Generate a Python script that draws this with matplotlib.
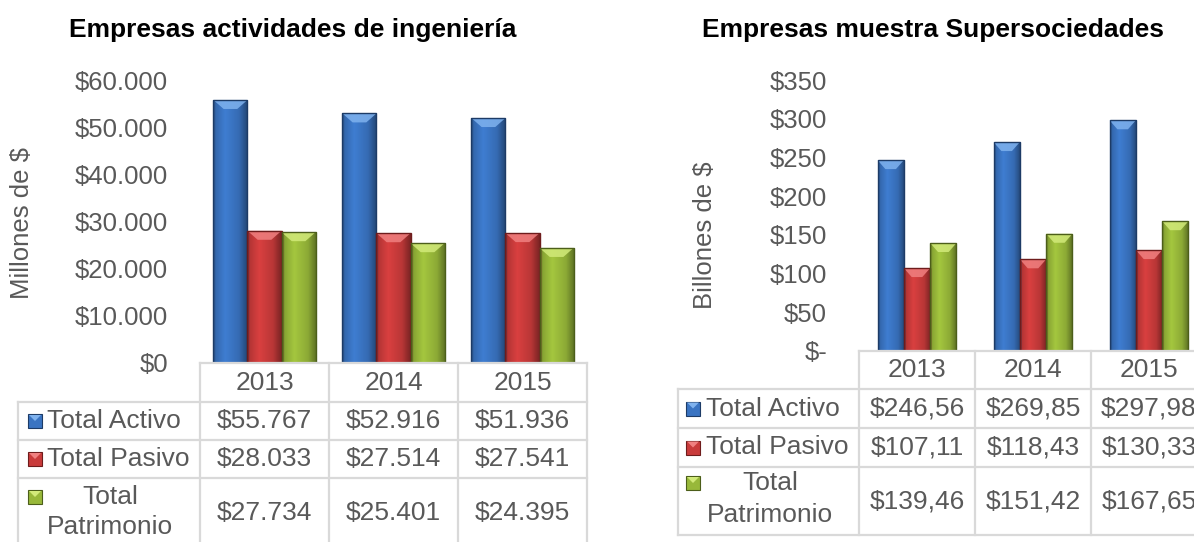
import numpy as np
import matplotlib.pyplot as plt
from matplotlib.patches import Polygon, Rectangle
from matplotlib.colors import to_rgb

plt.rcParams['font.family'] = ['Liberation Sans', 'DejaVu Sans']

years = ['2013', '2014', '2015']
series = ['Total Activo', 'Total Pasivo', 'Total Patrimonio']
row_labels = ['Total Activo', 'Total Pasivo', 'Total\nPatrimonio']

# Empresas actividades de ingenieria (millones de $)
ing_activo = [55767, 52916, 51936]
ing_pasivo = [28033, 27514, 27541]
ing_patrimonio = [27734, 25401, 24395]

# Empresas muestra Supersociedades (billones de $)
sup_activo = [246.56, 269.85, 297.98]
sup_pasivo = [107.11, 118.43, 130.33]
sup_patrimonio = [139.46, 151.42, 167.65]

ing_ticks = [0, 10000, 20000, 30000, 40000, 50000, 60000]
sup_ticks = [0, 50, 100, 150, 200, 250, 300, 350]

base_cols = ['#3a74c2', '#c93b3b', '#98b83a']
light_cols = ['#7fb2ee', '#f08080', '#d2ea7a']
dark_cols = ['#1d3b66', '#6e1c1c', '#4c5e1a']
grid_col = '#d9d9d9'
txt_col = '#595959'
tab_fs = 19

W, H = 1194, 542
fig = plt.figure(figsize=(W / 100, H / 100), dpi=100)


def px_rect(x0, x1, ytop, ybot):
    return [x0 / W, 1 - ybot / H, (x1 - x0) / W, (ybot - ytop) / H]


def fmt_ing(v):
    return '$' + f'{v:,.0f}'.replace(',', '.')


def fmt_sup(v):
    return '$' + f'{v:.2f}'.replace('.', ',')


def fmt_sup_tick(v):
    return '$-' if v == 0 else f'${v:.0f}'


def bevel_bars(ax, data, width, px_per_unit):
    n = len(data)
    x = np.arange(len(years))
    prof = np.interp(np.linspace(0, 1, 60), [0, 0.08, 0.35, 0.75, 1.0],
                     [0.62, 0.9, 1.08, 0.92, 0.6])
    for i, vals in enumerate(data):
        off = (i - (n - 1) / 2) * width
        bars = ax.bar(x + off, vals, width, color=base_cols[i], zorder=1)
        base = np.array(to_rgb(base_cols[i]))
        img = np.clip(prof[:, None] * base[None, :], 0, 1)[None, :, :]
        for p in bars:
            bx, bw, bh = p.get_x(), p.get_width(), p.get_height()
            im = ax.imshow(img, extent=[bx, bx + bw, 0, bh], aspect='auto',
                           zorder=2, interpolation='bilinear')
            im.set_clip_path(p)
            d = 9 / px_per_unit
            ins = bw * 0.3
            ax.add_patch(Polygon([(bx, bh), (bx + bw, bh), (bx + bw - ins, bh - d),
                                  (bx + ins, bh - d)], closed=True,
                                 facecolor=light_cols[i], edgecolor='none',
                                 alpha=0.85, zorder=3))
        ax.bar(x + off, vals, width, fill=False, edgecolor=dark_cols[i],
               linewidth=1.0, zorder=4)
    ax.set_xlim(-0.5, len(years) - 0.5)


def style_axis(ax, ticks, fmt, pad):
    ax.set_ylim(ticks[0], ticks[-1])
    ax.set_yticks(ticks)
    ax.set_yticklabels([fmt(t) for t in ticks], color=txt_col, fontsize=18.5)
    ax.tick_params(axis='y', length=0, pad=pad)
    ax.set_xticks([])
    for s in ['top', 'right', 'left', 'bottom']:
        ax.spines[s].set_visible(False)
    ax.patch.set_alpha(0)


# overlay in pixel coordinates for titles and data tables
ov = fig.add_axes([0, 0, 1, 1])
ov.set_xlim(0, W)
ov.set_ylim(H, 0)
ov.axis('off')
ov.set_zorder(5)


def draw_table(col_x0, col_w, tab_x0, head_top, row_lines, data, fmt,
               mark_x, lab_x, pat_x, pat_lines):
    ncol = len(years)
    x_end = col_x0 + ncol * col_w
    lw = 1.6
    # header row
    ov.plot([col_x0, x_end], [head_top, head_top], color=grid_col, lw=lw)
    for j in range(ncol + 1):
        xx = col_x0 + j * col_w
        ov.plot([xx, xx], [head_top, row_lines[-1]], color=grid_col, lw=lw)
    ov.plot([tab_x0, tab_x0], [row_lines[0], row_lines[-1]], color=grid_col, lw=lw)
    for yy in row_lines:
        ov.plot([tab_x0, x_end], [yy, yy], color=grid_col, lw=lw)
    for j, yr in enumerate(years):
        ov.text(col_x0 + (j + 0.5) * col_w, (head_top + row_lines[0]) / 2, yr,
                ha='center', va='center', fontsize=tab_fs, color=txt_col)
    for i, vals in enumerate(data):
        yc = (row_lines[i] + row_lines[i + 1]) / 2
        for j, v in enumerate(vals):
            ov.text(col_x0 + (j + 0.5) * col_w, yc, fmt(v), ha='center',
                    va='center', fontsize=tab_fs, color=txt_col)
        if '\n' in row_labels[i]:
            my = pat_lines[0]
            for k, part in enumerate(row_labels[i].split('\n')):
                ov.text(pat_x, pat_lines[k], part, ha='center', va='center',
                        fontsize=tab_fs, color=txt_col)
        else:
            my = yc
            ov.text(lab_x, yc, row_labels[i], ha='left', va='center',
                    fontsize=tab_fs, color=txt_col)
        ov.add_patch(Rectangle((mark_x - 7, my - 7), 14, 14,
                               facecolor=base_cols[i], edgecolor=dark_cols[i], lw=0.8))
        ov.add_patch(Polygon([(mark_x - 6, my - 6), (mark_x + 6, my - 6),
                              (mark_x, my)], closed=True,
                             facecolor=light_cols[i], edgecolor='none'))


# left chart
ax1 = fig.add_axes(px_rect(200, 587, 80, 363))
bevel_bars(ax1, [ing_activo, ing_pasivo, ing_patrimonio], 0.264, 283 / 60000)
style_axis(ax1, ing_ticks, fmt_ing, 23)
ov.text(293, 30, 'Empresas actividades de ingeniería', ha='center', va='center',
        fontsize=19, fontweight='bold', color='black')
ov.text(22, 223, 'Millones de $', rotation=90, ha='center', va='center',
        fontsize=18.5, color=txt_col)
draw_table(200, 129, 18, 363, [402, 440, 478, 548],
           [ing_activo, ing_pasivo, ing_patrimonio], fmt_ing,
           35, 47, 110, [497, 527])

# right chart
ax2 = fig.add_axes(px_rect(859, 1207, 80, 351))
bevel_bars(ax2, [sup_activo, sup_pasivo, sup_patrimonio], 0.227, 271 / 350)
style_axis(ax2, sup_ticks, fmt_sup_tick, 23)
ov.text(933, 30, 'Empresas muestra Supersociedades', ha='center', va='center',
        fontsize=19, fontweight='bold', color='black')
ov.text(705, 235, 'Billones de $', rotation=90, ha='center', va='center',
        fontsize=18.5, color=txt_col)
draw_table(859, 116, 678, 351, [389, 428, 467, 535],
           [sup_activo, sup_pasivo, sup_patrimonio], fmt_sup,
           693, 706, 770, [483, 515])

fig.savefig('out.png', dpi=100)
